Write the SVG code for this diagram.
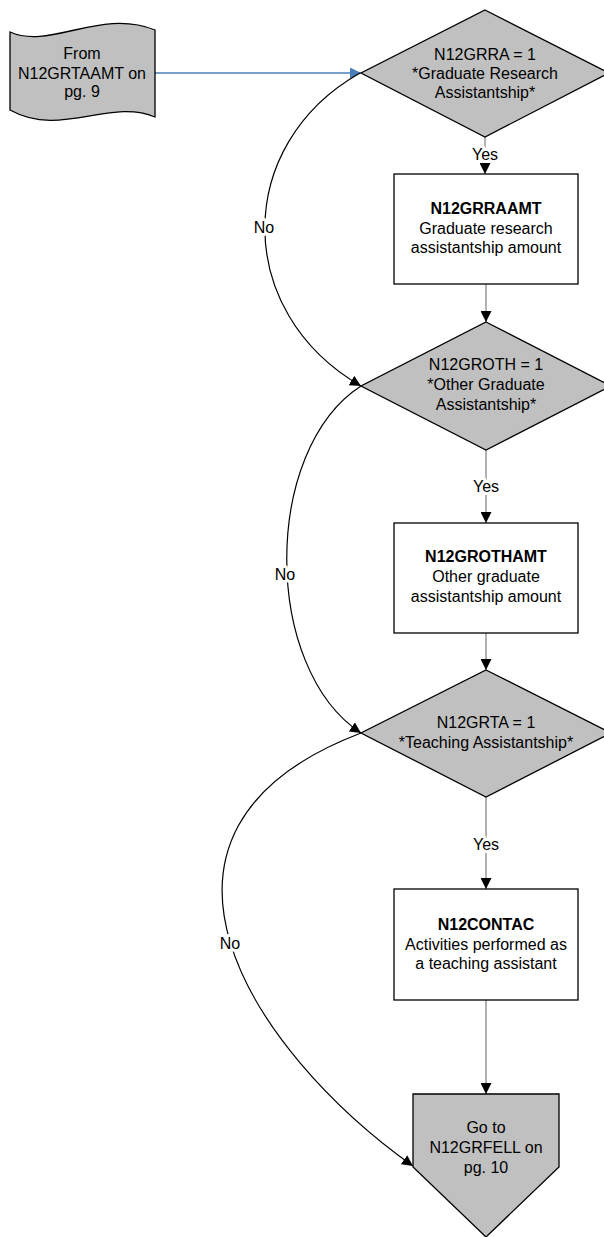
<svg xmlns="http://www.w3.org/2000/svg" width="604" height="1237" viewBox="0 0 604 1237">
<style>
.shape{fill:#c0c0c0;stroke:#000;stroke-width:1.3}
.box{fill:#fff;stroke:#000;stroke-width:1.3}
text{font-family:"Liberation Sans",Arial,sans-serif;font-size:16px;fill:#000;text-anchor:middle}
.b{font-weight:bold}
.lbl{paint-order:stroke;stroke:#fff;stroke-width:6px;stroke-linejoin:round}
.v{stroke:#7f7f7f;stroke-width:1.2;fill:none}
.c{stroke:#000;stroke-width:1.2;fill:none}
</style>
<defs>
<marker id="ah" viewBox="0 0 10 10" refX="10" refY="5" markerWidth="11" markerHeight="11" markerUnits="userSpaceOnUse" orient="auto">
<path d="M0,0 L10,5 L0,10 Z" fill="#000"/>
</marker>
<marker id="ahb" viewBox="0 0 10 10" refX="10" refY="5" markerWidth="11" markerHeight="11" markerUnits="userSpaceOnUse" orient="auto">
<path d="M0,0 L10,5 L0,10 Z" fill="#4a7ebb"/>
</marker>
</defs>
<rect width="604" height="1237" fill="#fff"/>
<g id="connectors">
<line x1="155" y1="73" x2="361" y2="73" stroke="#4a7ebb" stroke-width="1.3" marker-end="url(#ahb)"/>
<line class="v" x1="485" y1="137" x2="485" y2="174" marker-end="url(#ah)"/>
<line class="v" x1="486" y1="284" x2="486" y2="322" marker-end="url(#ah)"/>
<line class="v" x1="486" y1="450" x2="486" y2="523" marker-end="url(#ah)"/>
<line class="v" x1="486" y1="633" x2="486" y2="670" marker-end="url(#ah)"/>
<line class="v" x1="486" y1="797" x2="486" y2="889" marker-end="url(#ah)"/>
<line class="v" x1="486" y1="1000" x2="486" y2="1094" marker-end="url(#ah)"/>
<path class="c" d="M360,73 C233,145 233,312 361,386" marker-end="url(#ah)"/>
<path class="c" d="M361,386 C262,450 262,668 361,733" marker-end="url(#ah)"/>
<path class="c" d="M361,733 C106,830 250,1050 413,1166" marker-end="url(#ah)"/>
<text class="lbl" x="485" y="160">Yes</text>
<text class="lbl" x="486" y="492">Yes</text>
<text class="lbl" x="486" y="850">Yes</text>
<text class="lbl" x="264" y="233">No</text>
<text class="lbl" x="285" y="580">No</text>
<text class="lbl" x="230" y="949">No</text>
</g>
<g id="start">
<path class="shape" d="M10,32 C50,50 100,8 155,30 L155,117 C110,98 60,138 10,110 Z"/>
<text x="82" y="59">From</text>
<text x="82" y="79">N12GRTAAMT on</text>
<text x="82" y="97">pg. 9</text>
</g>
<g id="d1">
<path class="shape" d="M485,10 L609,73 L485,137 L361,73 Z"/>
<text x="485" y="60">N12GRRA = 1</text>
<text x="485" y="79">*Graduate Research</text>
<text x="485" y="98">Assistantship*</text>
</g>
<g id="b1">
<rect class="box" x="394" y="174" width="184" height="110"/>
<text class="b" x="486" y="214">N12GRRAAMT</text>
<text x="486" y="233.5">Graduate research</text>
<text x="486" y="253">assistantship amount</text>
</g>
<g id="d2">
<path class="shape" d="M486,322 L611,386 L486,450 L361,386 Z"/>
<text x="486" y="370">N12GROTH = 1</text>
<text x="486" y="390">*Other Graduate</text>
<text x="486" y="410">Assistantship*</text>
</g>
<g id="b2">
<rect class="box" x="394" y="523" width="184" height="110"/>
<text class="b" x="486" y="562">N12GROTHAMT</text>
<text x="486" y="582">Other graduate</text>
<text x="486" y="602">assistantship amount</text>
</g>
<g id="d3">
<path class="shape" d="M486,670 L611,733 L486,797 L361,733 Z"/>
<text x="486" y="728">N12GRTA = 1</text>
<text x="486" y="748">*Teaching Assistantship*</text>
</g>
<g id="b3">
<rect class="box" x="394" y="889" width="184" height="111"/>
<text class="b" x="486" y="930">N12CONTAC</text>
<text x="486" y="950">Activities performed as</text>
<text x="486" y="969">a teaching assistant</text>
</g>
<g id="end">
<path class="shape" d="M413,1094 L559,1094 L559,1167 L486,1237 L413,1167 Z"/>
<text x="486" y="1133">Go to</text>
<text x="486" y="1153">N12GRFELL on</text>
<text x="486" y="1173">pg. 10</text>
</g>
</svg>
